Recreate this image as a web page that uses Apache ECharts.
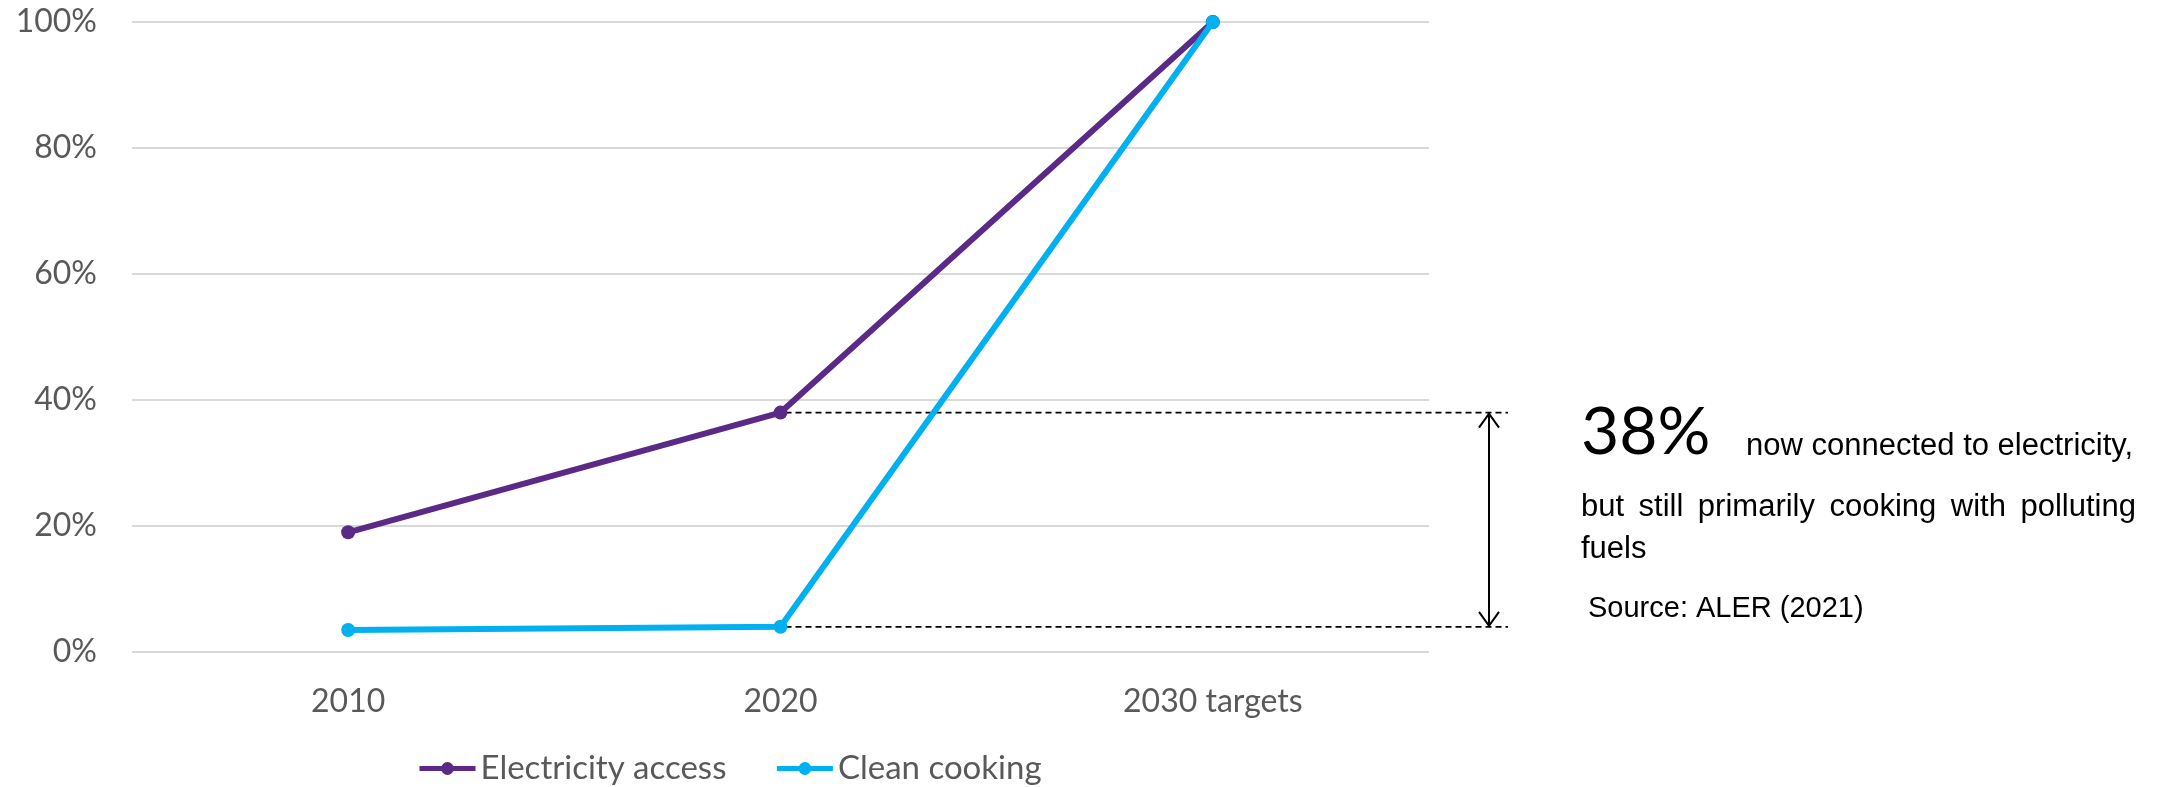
<!DOCTYPE html>
<html>
<head>
<meta charset="utf-8">
<title>Electricity access and clean cooking</title>
<script src="https://cdn.jsdelivr.net/npm/echarts@6/dist/echarts.min.js"></script>
<style>
  html, body { margin: 0; padding: 0; background: #ffffff; }
  #chart { width: 2161px; height: 787px; }
</style>
</head>
<body>
<div id="chart"></div>
<script>
// Share of population (%) by year
const categories = ['2010', '2020', '2030 targets'];
const electricityAccess = [19, 38, 100];
const cleanCooking = [3.5, 4, 100];

// Value axis ticks
const yMin = 0;
const yMax = 100;
const yInterval = 20;

// Annotation texts
const gapValue = '38%';
const gapLine1 = 'now connected to electricity,';
const gapLine2Words = ['but', 'still', 'primarily', 'cooking', 'with', 'polluting'];
const gapLine3 = 'fuels';
const sourceNote = 'Source: ALER (2021)';

const PURPLE = '#5B2A86';
const CYAN = '#00B0F0';
const AXIS_GREY = '#595959';
const GRID_GREY = '#D9D9D9';

const chart = echarts.init(document.getElementById('chart'), null, { renderer: 'canvas' });

const option = {
  animation: false,
  backgroundColor: '#ffffff',
  grid: { left: 132, right: 732, top: 22, bottom: 135, containLabel: false },
  legend: {
    left: 417,
    top: 752,
    padding: 0,
    itemWidth: 56,
    itemHeight: 16,
    itemGap: 48,
    lineStyle: { width: 5 },
    textStyle: { color: AXIS_GREY, fontSize: 33, fontFamily: 'Lato' },
    data: ['Electricity access', 'Clean cooking']
  },
  xAxis: {
    type: 'category',
    data: categories,
    boundaryGap: true,
    axisLine: { show: false },
    axisTick: { show: false },
    axisLabel: { color: AXIS_GREY, fontSize: 32, fontFamily: 'Lato', margin: 34 }
  },
  yAxis: {
    type: 'value',
    min: yMin,
    max: yMax,
    interval: yInterval,
    axisLine: { show: false },
    axisTick: { show: false },
    axisLabel: {
      color: AXIS_GREY, fontSize: 32, fontFamily: 'Lato', margin: 35,
      formatter: '{value}%'
    },
    splitLine: { lineStyle: { color: GRID_GREY, width: 2 } }
  },
  series: [
    {
      name: 'Electricity access',
      type: 'line',
      data: electricityAccess,
      symbol: 'circle',
      symbolSize: 14,
      lineStyle: { color: PURPLE, width: 6 },
      itemStyle: { color: PURPLE },
      z: 3
    },
    {
      name: 'Clean cooking',
      type: 'line',
      data: cleanCooking,
      symbol: 'circle',
      symbolSize: 14,
      lineStyle: { color: CYAN, width: 6 },
      itemStyle: { color: CYAN },
      z: 4
    }
  ]
};

chart.setOption(option);

// Gap annotation between the two 2020 values
const pTop = chart.convertToPixel({ gridIndex: 0 }, [categories[1], electricityAccess[1]]);
const pBot = chart.convertToPixel({ gridIndex: 0 }, [categories[1], cleanCooking[1]]);
const dashEnd = 1508;
const arrowX = 1489;
const headW = 10;
const headH = 15;

const dashStyle = { stroke: '#000000', lineWidth: 1.8, lineDash: [6, 4], fill: null };
const arrowStyle = { stroke: '#000000', lineWidth: 2, fill: null };

// Justified second line: words separated by fixed-width spacers
const bodyFont = '31px "Liberation Sans"';
const gapWidth = 14.5;
const justifiedLine = gapLine2Words.join('{g|}');

chart.setOption({
  graphic: [
    { type: 'line', z: 1, shape: { x1: pTop[0] + 5, y1: pTop[1], x2: dashEnd, y2: pTop[1] }, style: dashStyle },
    { type: 'line', z: 1, shape: { x1: pBot[0] + 5, y1: pBot[1], x2: dashEnd, y2: pBot[1] }, style: dashStyle },
    { type: 'line', shape: { x1: arrowX, y1: pTop[1] + 1, x2: arrowX, y2: pBot[1] - 1 }, style: arrowStyle },
    { type: 'polyline', shape: { points: [[arrowX - headW, pTop[1] + headH], [arrowX, pTop[1] + 1], [arrowX + headW, pTop[1] + headH]] }, style: arrowStyle },
    { type: 'polyline', shape: { points: [[arrowX - headW, pBot[1] - headH], [arrowX, pBot[1] - 1], [arrowX + headW, pBot[1] - headH]] }, style: arrowStyle },
    {
      type: 'text', left: 1581, top: 400,
      style: { text: gapValue, fill: '#000000', font: '66px Lato' }
    },
    {
      type: 'text', left: 1746, top: 431,
      style: { text: gapLine1, fill: '#000000', font: bodyFont }
    },
    {
      type: 'text', left: 1581, top: 492,
      style: {
        text: justifiedLine, fill: '#000000', font: bodyFont,
        rich: { g: { width: gapWidth, font: bodyFont } }
      }
    },
    {
      type: 'text', left: 1581, top: 534,
      style: { text: gapLine3, fill: '#000000', font: bodyFont }
    },
    {
      type: 'text', left: 1588, top: 594,
      style: { text: sourceNote, fill: '#000000', font: '29px "Liberation Sans"' }
    }
  ]
});
</script>
</body>
</html>
